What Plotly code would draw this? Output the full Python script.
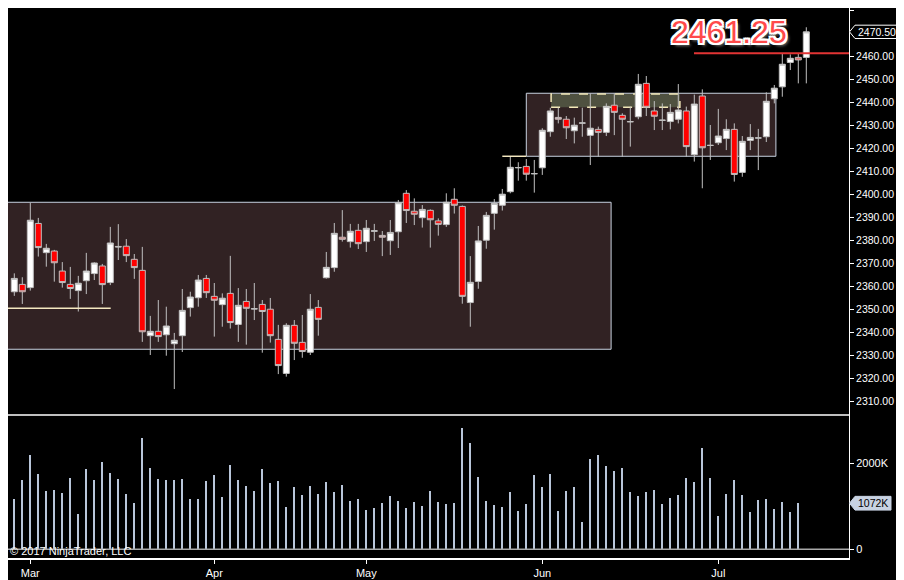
import pandas as pd
import plotly.graph_objects as go

# trading days, Feb 27 .. Jul 19 2017
dates = [d.strftime("%Y-%m-%d") for d in pd.bdate_range("2017-02-27", "2017-07-19")
         if d.strftime("%Y-%m-%d") not in ("2017-04-14", "2017-05-29", "2017-07-04")]

opens = [2357.5, 2360.7, 2359.3, 2387.2, 2374.5, 2375.2, 2366.5, 2360.7, 2358.0, 2362.3,
         2365.4, 2368.7, 2361.5, 2377.2, 2377.3, 2371.6, 2366.8, 2338.4, 2340.3, 2338.8,
         2334.9, 2338.4, 2350.6, 2354.9, 2363.3, 2355.5, 2351.9, 2356.8, 2343.3, 2353.3,
         2350.0, 2352.0, 2349.9, 2336.8, 2322.0, 2342.9, 2335.5, 2331.2, 2350.7, 2363.6,
         2368.0, 2381.2, 2379.3, 2384.2, 2379.3, 2383.8, 2382.0, 2379.7, 2383.6, 2400.3,
         2392.5, 2389.7, 2392.9, 2388.3, 2386.7, 2397.7, 2394.6, 2352.8, 2362.0, 2379.9,
         2391.6, 2395.1, 2401.0, 2411.4, 2412.0, 2408.9, 2411.4, 2427.1, 2433.3, 2432.5,
         2427.5, 2430.8, 2425.5, 2428.1, 2426.8, 2438.6, 2434.2, 2431.5, 2433.6, 2448.1,
         2436.1, 2432.0, 2431.5, 2432.5, 2436.1, 2417.1, 2442.6, 2421.2, 2422.3, 2424.1,
         2428.1, 2409.4, 2423.3, 2424.3, 2424.9, 2441.4, 2446.6, 2457.2, 2459.4, 2459.4]
highs = [2365.5, 2363.8, 2396.2, 2389.6, 2378.3, 2375.7, 2370.4, 2368.3, 2364.4, 2374.4,
         2370.3, 2369.6, 2385.7, 2386.9, 2380.4, 2373.9, 2377.0, 2347.0, 2353.9, 2351.0,
         2339.6, 2358.7, 2357.5, 2364.8, 2364.8, 2361.3, 2356.8, 2373.1, 2359.1, 2358.7,
         2361.3, 2353.9, 2354.8, 2343.1, 2343.8, 2345.2, 2347.4, 2356.5, 2353.9, 2374.8,
         2387.4, 2393.0, 2387.0, 2387.0, 2388.7, 2387.0, 2383.9, 2388.7, 2397.4, 2401.7,
         2398.1, 2395.2, 2393.3, 2389.4, 2400.3, 2402.5, 2395.0, 2373.0, 2386.1, 2392.2,
         2397.8, 2402.2, 2416.2, 2413.8, 2415.2, 2414.8, 2428.6, 2437.5, 2437.5, 2433.9,
         2433.2, 2437.5, 2443.8, 2429.3, 2439.4, 2443.8, 2435.1, 2438.0, 2452.2, 2451.3,
         2440.4, 2439.4, 2439.1, 2447.8, 2438.0, 2443.2, 2445.5, 2430.0, 2437.0, 2432.5,
         2430.7, 2425.2, 2430.4, 2428.3, 2444.2, 2447.4, 2461.2, 2460.7, 2460.9, 2472.5]
lows = [2355.7, 2352.2, 2358.0, 2372.8, 2368.4, 2361.9, 2359.3, 2354.4, 2348.9, 2356.5,
        2362.6, 2352.2, 2360.4, 2371.3, 2370.4, 2363.1, 2335.7, 2330.0, 2335.7, 2329.7,
        2315.2, 2331.3, 2346.7, 2351.0, 2354.8, 2338.0, 2342.3, 2341.5, 2335.7, 2334.5,
        2345.2, 2331.0, 2335.4, 2321.7, 2320.6, 2327.8, 2328.8, 2330.0, 2338.4, 2363.2,
        2366.2, 2379.3, 2376.7, 2376.1, 2374.8, 2379.6, 2373.0, 2373.5, 2376.5, 2387.4,
        2386.5, 2385.4, 2376.7, 2381.9, 2385.7, 2391.5, 2352.3, 2342.3, 2358.8, 2376.2,
        2384.5, 2392.8, 2400.3, 2405.8, 2405.8, 2400.6, 2408.3, 2424.9, 2430.7, 2423.9,
        2422.0, 2424.9, 2412.6, 2416.2, 2425.2, 2425.6, 2416.2, 2420.6, 2432.5, 2433.9,
        2427.8, 2427.8, 2428.1, 2430.7, 2416.2, 2414.1, 2402.5, 2414.8, 2421.3, 2419.1,
        2405.4, 2407.5, 2419.1, 2410.4, 2422.6, 2439.4, 2442.3, 2453.9, 2448.1, 2448.1]
closes = [2363.3, 2357.5, 2388.6, 2376.7, 2376.4, 2370.1, 2361.5, 2358.9, 2361.2, 2366.5,
          2370.0, 2360.6, 2378.7, 2377.0, 2373.2, 2368.0, 2340.1, 2340.3, 2338.0, 2342.6,
          2336.4, 2349.4, 2355.2, 2362.6, 2357.1, 2353.8, 2354.7, 2344.1, 2351.6, 2350.3,
          2350.1, 2348.9, 2338.4, 2325.4, 2342.9, 2335.1, 2331.5, 2349.9, 2345.5, 2368.1,
          2382.9, 2380.3, 2383.8, 2378.4, 2385.1, 2384.0, 2381.2, 2383.3, 2396.2, 2392.8,
          2391.2, 2393.3, 2388.8, 2386.8, 2396.4, 2395.1, 2355.5, 2361.6, 2379.6, 2390.7,
          2395.9, 2399.9, 2411.6, 2411.5, 2408.6, 2408.8, 2427.7, 2436.1, 2432.5, 2428.8,
          2429.9, 2430.9, 2428.6, 2426.8, 2438.1, 2435.5, 2432.5, 2431.4, 2447.7, 2437.7,
          2433.8, 2432.1, 2435.5, 2436.5, 2420.6, 2439.1, 2420.1, 2421.1, 2425.2, 2428.1,
          2408.5, 2422.9, 2424.6, 2424.4, 2440.3, 2446.0, 2456.4, 2459.0, 2458.3, 2470.5]

# volume in thousands (no bar drawn yet for the last session)
volume_k = [1171, 1612, 2194, 1752, 1357, 1380, 1310, 1651, 822, 1868,
            1612, 2031, 1775, 1636, 1287, 1078, 2589, 1892, 1636, 1612,
            1612, 1636, 1171, 1171, 1589, 1729, 1217, 1961, 1612, 1473,
            1357, 1868, 1543, 1589, 985, 1450, 1264, 1473, 1287, 1566,
            1334, 1496, 1124, 1171, 915, 962, 1078, 1240, 1124, 962,
            1101, 1008, 1357, 1101, 1055, 1078, 2822, 2473, 1682, 1124,
            1031, 985, 1334, 892, 1055, 1729, 1450, 1752, 892, 1357,
            1450, 636, 2101, 2194, 1938, 1822, 1892, 1334, 1240, 1334,
            1380, 1055, 1194, 1264, 1659, 1566, 2357, 1659, 776, 1287,
            1612, 1264, 872, 1148, 1171, 938, 1101, 872, 1072, None]
volume = [v * 1000 if v is not None else None for v in volume_k]

month_ticks = ["2017-03-01", "2017-04-03", "2017-05-01", "2017-06-01", "2017-07-03"]
month_labels = ["Mar", "Apr", "May", "Jun", "Jul"]
price_ticks = [2310, 2320, 2330, 2340, 2350, 2360, 2370, 2380, 2390, 2400,
               2410, 2420, 2430, 2440, 2450, 2460, 2480]
volume_ticks = [0, 2000000]
volume_labels = ["0", "2000K"]

marked_price = 2461.25
last_price = closes[-1]
last_volume_k = 1072

W, H = 904, 580
OFF = 8   # the page puts the figure 8px in from the window corner


def px(sx):
    # window pixel x -> paper x
    return (sx - OFF) / W


def py(sy):
    # window pixel y -> paper y
    return 1 - (sy - OFF) / H


XR = px(849)
SPLIT = py(415)
FONT = "Liberation Sans, Arial, sans-serif"
GRAY = "#c0c0c0"

fig = go.Figure()

fig.add_trace(go.Candlestick(
    x=dates, open=opens, high=highs, low=lows, close=closes,
    increasing=dict(fillcolor="#ffffff", line=dict(color=GRAY, width=1)),
    decreasing=dict(fillcolor="#ff0000", line=dict(color=GRAY, width=1)),
    whiskerwidth=0, yaxis="y", showlegend=False, hoverinfo="skip"
))

fig.add_trace(go.Bar(
    x=dates, y=volume, width=0.28, marker=dict(color="#b9c6da", line=dict(width=0)),
    yaxis="y2", showlegend=False, hoverinfo="skip"
))

ptag = 2.9        # half height of the price tag, in price units
vtag = 160000     # half height of the volume tag, in volume units

shapes = [
    # consolidation zones
    dict(type="rect", xref="x", yref="y", x0=-3, x1=74.6, y0=2332.5, y1=2396.4,
         fillcolor="#312223", line=dict(color="#c8d2e0", width=1), layer="below"),
    dict(type="rect", xref="x", yref="y", x0=64.0, x1=95.2, y0=2416.4, y1=2443.8,
         fillcolor="#312223", line=dict(color="#c8d2e0", width=1), layer="below"),
    dict(type="rect", xref="x", yref="y", x0=67.1, x1=83.2, y0=2437.7, y1=2443.5,
         fillcolor="#4f5140", line=dict(color="#f2e8b8", width=1.5, dash="dash"), layer="below"),
    # support lines
    dict(type="line", xref="x", yref="y", x0=-3, x1=12.05, y0=2350.3, y1=2350.3,
         line=dict(color="#f4e8c0", width=1.5)),
    dict(type="line", xref="x", yref="y", x0=61.0, x1=64.0, y0=2416.4, y1=2416.4,
         line=dict(color="#f4e8c0", width=1.5)),
    # marked level
    dict(type="line", xref="paper", yref="y", x0=px(694), x1=XR, y0=marked_price, y1=marked_price,
         line=dict(color="#e23434", width=2)),
    # panel separator and volume baseline
    dict(type="line", xref="paper", yref="paper", x0=0, x1=XR, y0=SPLIT, y1=SPLIT,
         line=dict(color="#ffffff", width=1.5)),
    dict(type="line", xref="paper", yref="y2", x0=0, x1=XR, y0=0, y1=0,
         line=dict(color="#a8a8a8", width=1.5)),
    # last price / last volume tags
    dict(type="path", xref="paper", yref="y",
         path="M %f,%f L %f,%f L %f,%f L %f,%f L %f,%f Z" % (
             px(849.5), last_price, px(855), last_price + ptag, px(897), last_price + ptag,
             px(897), last_price - ptag, px(855), last_price - ptag),
         fillcolor="#000000", line=dict(color="#ffffff", width=1), layer="above"),
    dict(type="path", xref="paper", yref="y2",
         path="M %f,%f L %f,%f L %f,%f L %f,%f L %f,%f Z" % (
             px(849.5), last_volume_k * 1000, px(855), last_volume_k * 1000 + vtag,
             px(891), last_volume_k * 1000 + vtag, px(891), last_volume_k * 1000 - vtag,
             px(855), last_volume_k * 1000 - vtag),
         fillcolor="#c8d2e2", line=dict(color="#c8d2e2", width=1), layer="above"),
]

annotations = [
    dict(text="2461.25", xref="paper", yref="paper", x=px(729), y=py(32),
         xanchor="center", yanchor="middle", showarrow=False,
         font=dict(family=FONT, size=32, color="#ff4a4a",
                   shadow="2px 0 0 #fff, -2px 0 0 #fff, 0 2px 0 #fff, 0 -2px 0 #fff, "
                          "2px 2px 0 #fff, -2px -2px 0 #fff, 2px -2px 0 #fff, -2px 2px 0 #fff, "
                          "3px 3px 3px #777")),
    dict(text="%.2f" % last_price, xref="paper", yref="y", x=px(855.5), y=last_price,
         xanchor="left", yanchor="middle", showarrow=False,
         font=dict(family=FONT, size=10.5, color="#ffffff")),
    dict(text="%dK" % last_volume_k, xref="paper", yref="y2", x=px(856), y=last_volume_k * 1000,
         xanchor="left", yanchor="middle", showarrow=False,
         font=dict(family=FONT, size=10.5, color="#000000")),
    dict(text="© 2017 NinjaTrader, LLC", xref="paper", yref="paper", x=0, y=py(551),
         xanchor="left", yanchor="middle", showarrow=False,
         font=dict(family=FONT, size=11, color="#ffffff")),
]

fig.update_layout(
    width=W, height=H,
    margin=dict(l=0, r=0, t=0, b=0),
    paper_bgcolor="#000000", plot_bgcolor="#000000",
    font=dict(family=FONT, size=11, color="#ffffff"),
    showlegend=False, bargap=0, hovermode=False,
    boxgap=0.25, boxgroupgap=0,
    xaxis=dict(
        type="category", domain=[0, XR], range=[(OFF - 14.3) / 8, (849 - 14.3) / 8],
        anchor="y2", rangeslider=dict(visible=False),
        showgrid=False, zeroline=False,
        showline=True, linecolor="#ffffff", linewidth=1.5,
        ticks="outside", ticklen=4, tickcolor="#ffffff",
        tickvals=month_ticks, ticktext=month_labels,
        tickfont=dict(size=11, color="#ffffff"),
    ),
    yaxis=dict(
        domain=[SPLIT, 1], range=[2480 - (415 - 10) / 2.3, 2480 - (OFF - 10) / 2.3],
        anchor="x", side="right",
        showgrid=False, zeroline=False,
        showline=True, linecolor="#ffffff", linewidth=1,
        ticks="outside", ticklen=4, tickcolor="#ffffff",
        tickvals=price_ticks, tickformat=".2f",
        tickfont=dict(size=10.5, color="#ffffff"),
    ),
    yaxis2=dict(
        domain=[py(558), SPLIT], range=[-202000, 3124000],
        anchor="x", side="right",
        showgrid=False, zeroline=False,
        showline=True, linecolor="#ffffff", linewidth=1,
        ticks="outside", ticklen=4, tickcolor="#ffffff",
        tickvals=volume_ticks, ticktext=volume_labels,
        tickfont=dict(size=11, color="#ffffff"),
    ),
    shapes=shapes,
    annotations=annotations,
)

fig.write_html("out.html")
